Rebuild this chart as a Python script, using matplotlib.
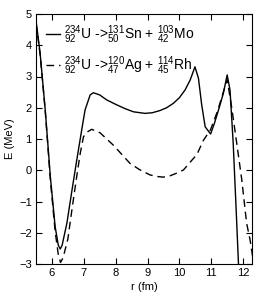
import matplotlib
matplotlib.use('Agg')
import matplotlib.pyplot as plt

plt.rcParams['font.family'] = ['Liberation Sans', 'DejaVu Sans']
plt.rcParams['mathtext.fontset'] = 'custom'
plt.rcParams['mathtext.rm'] = 'Liberation Sans'
plt.rcParams['mathtext.it'] = 'Liberation Sans'

# U234 -> Sn131 + Mo103
r1 = [5.5, 5.63, 5.79, 5.95, 6.1, 6.2, 6.26, 6.32, 6.47, 6.62, 6.78, 6.92, 7.04, 7.2, 7.3,
      7.5, 7.72, 8.04, 8.3, 8.56, 8.92, 9.15, 9.39, 9.6, 9.81, 10.0, 10.18, 10.34, 10.49,
      10.6, 10.7, 10.81, 10.98, 11.1, 11.25, 11.38, 11.5, 11.59, 11.69, 11.78, 11.86]
e1 = [4.8, 3.74, 1.93, -0.2, -1.8, -2.4, -2.52, -2.4, -1.69, -0.7, 0.33, 1.2, 1.93, 2.41, 2.48,
      2.41, 2.25, 2.09, 1.97, 1.87, 1.82, 1.84, 1.91, 2.0, 2.14, 2.32, 2.57, 2.89, 3.31,
      2.94, 2.1, 1.39, 1.16, 1.5, 2.0, 2.46, 3.05, 2.57, 0.86, -1.2, -3.1]

# U234 -> Ag120 + Rh114
r2 = [5.5, 5.63, 5.79, 5.95, 6.1, 6.2, 6.27, 6.35, 6.5, 6.65, 6.8, 6.89, 6.99, 7.1, 7.25,
      7.51, 7.93, 8.2, 8.45, 8.75, 9.08, 9.3, 9.5, 9.7, 9.9, 10.13, 10.4, 10.55, 10.75,
      10.98, 11.2, 11.38, 11.5, 11.64, 11.8, 11.96, 12.11, 12.22, 12.35]
e2 = [4.7, 3.7, 1.9, -0.3, -1.95, -2.7, -2.95, -2.8, -2.2, -1.1, -0.05, 0.55, 1.07, 1.22, 1.31,
      1.2, 0.8, 0.5, 0.22, 0.02, -0.15, -0.2, -0.22, -0.18, -0.1, 0.01, 0.33, 0.5, 0.95,
      1.3, 1.9, 2.5, 2.9, 2.03, 0.87, -0.31, -1.69, -2.23, -3.1]

lab1 = r'$^{234}_{92}\mathrm{U}$ ->$^{131}_{50}\mathrm{Sn}$ + $^{103}_{42}\mathrm{Mo}$'
lab2 = r'$^{234}_{92}\mathrm{U}$ ->$^{120}_{47}\mathrm{Ag}$ + $^{114}_{45}\mathrm{Rh}$'

fig = plt.figure(figsize=(2.6, 3.0), dpi=100)
ax = fig.add_axes([36/260, 1-264/300, 216/260, 250/300])
ax.plot(r1, e1, color='black', lw=1.0, label=lab1)
ax.plot(r2, e2, color='black', lw=1.0, dashes=(5.5, 3.5), label=lab2)

ax.set_xlim(5.5, 12.28)
ax.set_ylim(-3, 5)
ax.set_xticks(range(6, 13))
ax.set_yticks(range(-3, 6))
ax.tick_params(direction='in', top=True, right=True, length=4, width=0.8, labelsize=8, pad=3)
for s in ax.spines.values():
    s.set_linewidth(0.8)
ax.set_xlabel('r (fm)', fontsize=8, labelpad=3)
ax.set_ylabel('E (MeV)', fontsize=8, labelpad=3)

ax.legend(loc='upper left', frameon=False, fontsize=10, handlelength=1.0,
          handletextpad=0.35, borderaxespad=0.3, labelspacing=0.55, borderpad=0.4)

fig.savefig('out.png', dpi=100)
